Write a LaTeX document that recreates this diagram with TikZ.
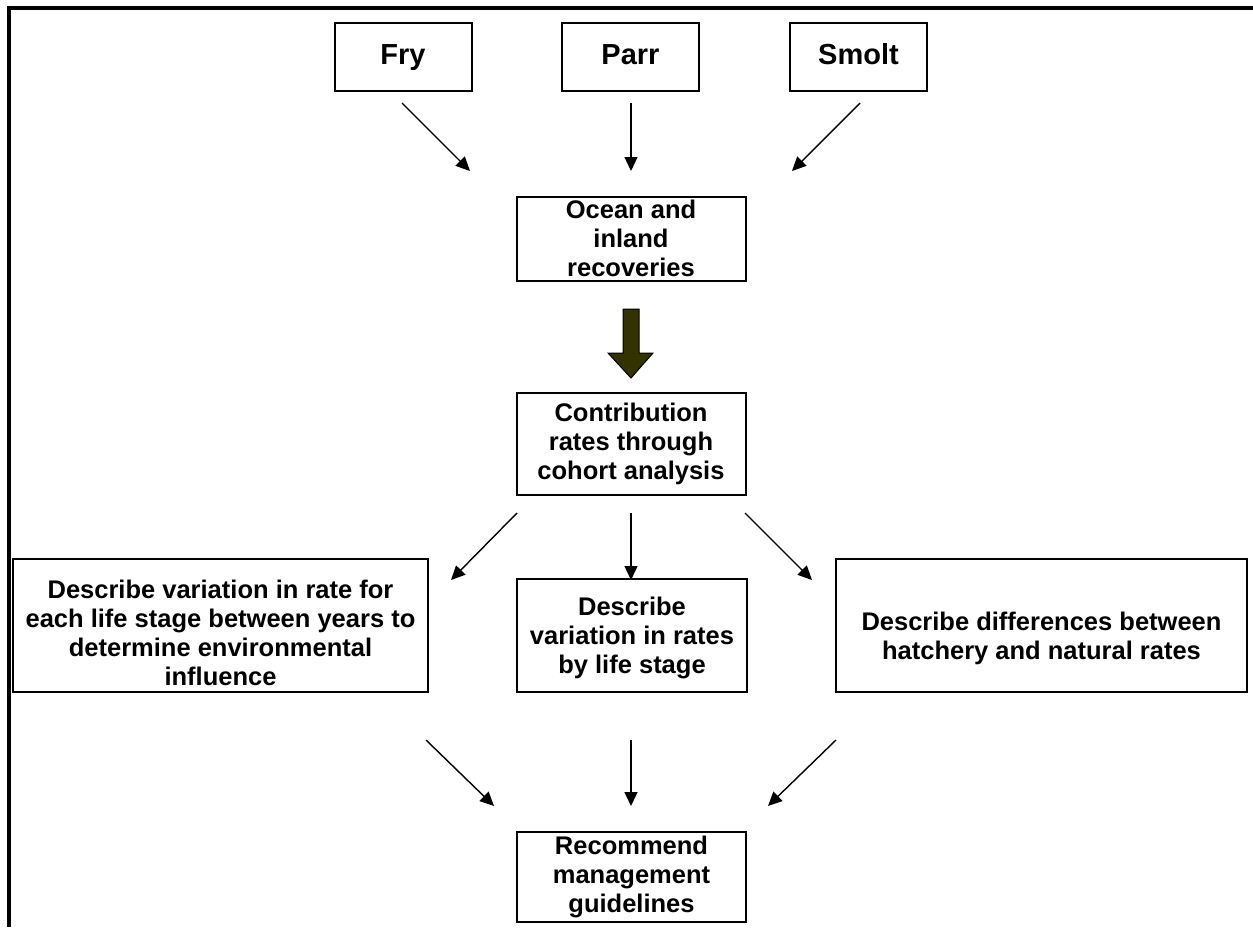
\documentclass[tikz,border=0pt]{standalone}
\usepackage{fontspec}
\setmainfont{Liberation Sans}
\usetikzlibrary{arrows.meta}
\begin{document}
\begin{tikzpicture}[x=1pt,y=-1pt,
  box/.style={draw=black,line width=2pt,fill=white,inner sep=0pt,align=center,
    font=\bfseries\fontsize{25.5}{29}\selectfont},
  frameonly/.style={draw=black,line width=2pt,fill=white,inner sep=0pt},
  boxtext/.style={inner sep=0pt,align=center,font=\bfseries\fontsize{25.5}{29}\selectfont},
  smallbox/.style={box,font=\bfseries\fontsize{29}{33}\selectfont,text height=21pt,text depth=6pt},
  conn/.style={line width=1.4pt,-{Triangle[length=14pt,width=13pt]}},
  frame/.style={line width=4pt}]
\useasboundingbox (0,0) rectangle (1253,927);
% frame
\draw[frame] (9,927) -- (9,8) -- (1253,8);
% top boxes
\node[smallbox,minimum width=137pt,minimum height=68pt] (fry) at (403,57) {Fry};
\node[smallbox,minimum width=137pt,minimum height=68pt] (parr) at (630.5,57) {Parr};
\node[smallbox,minimum width=137pt,minimum height=68pt] (smolt) at (858.5,57) {Smolt};
% middle column boxes
\node[frameonly,minimum width=229pt,minimum height=84pt] (oceanbox) at (631,239) {};
\node[boxtext] (ocean) at (631,238.5) {Ocean and\\inland\\recoveries};
\node[box,minimum width=229pt,minimum height=102pt] (contrib) at (631,444) {Contribution\\rates through\\cohort analysis};
% lower row
\node[frameonly,minimum width=415pt,minimum height=133pt] (leftbox) at (220.5,625) {};
\node[boxtext] (left) at (220.5,633) {Describe variation in rate for\\each life stage between years to\\determine environmental\\influence};
\node[frameonly,minimum width=230pt,minimum height=113pt] (midbox) at (632,635) {};
\node[boxtext] (mid) at (632,638) {Describe\\variation in rates\\by life stage};
\node[frameonly,minimum width=411pt,minimum height=133pt] (rightbox) at (1041.5,625) {};
\node[boxtext] (right) at (1041.5,638) {Describe differences between\\hatchery and natural rates};
\node[box,minimum width=229pt,minimum height=90pt] (rec) at (631.5,877) {Recommend\\management\\guidelines};
% connector end points
\coordinate (a1s) at (402,103); \coordinate (a1e) at (470,171);
\coordinate (a2s) at (631,103); \coordinate (a2e) at (631,171);
\coordinate (a3s) at (860,103); \coordinate (a3e) at (792,171);
\coordinate (b1s) at (517,513); \coordinate (b1e) at (451,580);
\coordinate (b2s) at (631,513); \coordinate (b2e) at (631,580);
\coordinate (b3s) at (745,513); \coordinate (b3e) at (812,580);
\coordinate (c1s) at (426,740); \coordinate (c1e) at (494,806);
\coordinate (c2s) at (631,740); \coordinate (c2e) at (631,806);
\coordinate (c3s) at (836,740); \coordinate (c3e) at (768,806);
\foreach \p in {a1,a2,a3,b1,b2,b3,c1,c2,c3}{\draw[conn] (\p s) -- (\p e);}
% block arrow
\definecolor{olive}{HTML}{333300}
\draw[fill=olive,line width=1pt,line join=miter]
  (623,309) -- (639,309) -- (639,353) -- (653,353) -- (631,378) -- (608,353) -- (623,353) -- cycle;
\end{tikzpicture}
\end{document}
